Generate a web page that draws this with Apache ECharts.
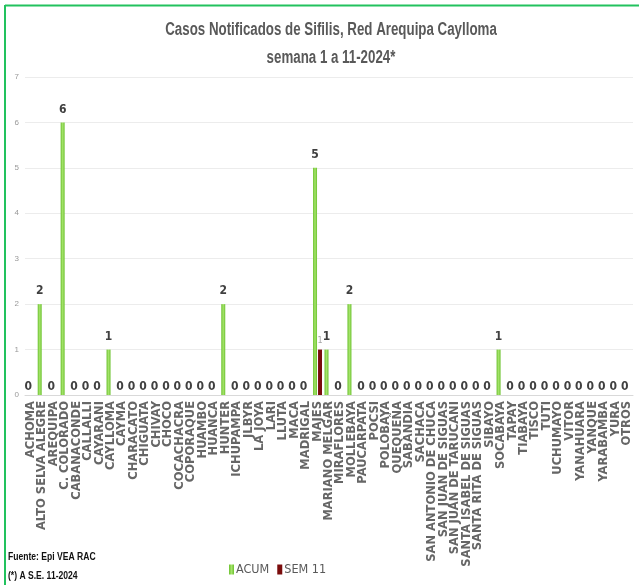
<!DOCTYPE html>
<html><head><meta charset="utf-8">
<script src="https://cdn.jsdelivr.net/npm/echarts@6/dist/echarts.min.js"></script>
<style>html,body{margin:0;padding:0;background:#fff}#c{width:639px;height:585px}</style>
</head><body><div id="c"></div>
<script>
const categories = ["ACHOMA","ALTO SELVA ALEGRE","AREQUIPA","C. COLORADO","CABANACONDE","CALLALLI","CAYARANI","CAYLLOMA","CAYMA","CHARACATO","CHIGUATA","CHIVAY","CHOCO","COCACHACRA","COPORAQUE","HUAMBO","HUANCA","HUNTER","ICHUPAMPA","JLBYR","LA JOYA","LARI","LLUTA","MACA","MADRIGAL","MAJES","MARIANO MELGAR","MIRAFLORES","MOLLEBAYA","PAUCARPATA","POCSI","POLOBAYA","QUEQUEÑA","SABANDIA","SACHACA","SAN ANTONIO DE CHUCA","SAN JUAN DE SIGUAS","SAN JUAN DE TARUCANI","SANTA ISABEL DE SIGUAS","SANTA RITA DE SIGUAS","SIBAYO","SOCABAYA","TAPAY","TIABAYA","TISCO","TUTI","UCHUMAYO","VITOR","YANAHUARA","YANQUE","YARABAMBA","YURA","OTROS"];
const acum = [0,2,0,6,0,0,0,1,0,0,0,0,0,0,0,0,0,2,0,0,0,0,0,0,0,5,1,0,2,0,0,0,0,0,0,0,0,0,0,0,0,1,0,0,0,0,0,0,0,0,0,0,0];
const sem11 = [0,0,0,0,0,0,0,0,0,0,0,0,0,0,0,0,0,0,0,0,0,0,0,0,0,1,0,0,0,0,0,0,0,0,0,0,0,0,0,0,0,0,0,0,0,0,0,0,0,0,0,0,0];
const yTicks = [0,1,2,3,4,5,6,7];
const titleLines = ['Casos Notificados de Sifilis, Red Arequipa Caylloma','semana 1 a 11-2024*'];
const notes = ['Fuente: Epi VEA RAC','(*) A S.E. 11-2024'];

const chart = echarts.init(document.getElementById('c'), null, {renderer:'canvas'});
const sans = "'Liberation Sans',Arial,sans-serif";
const cond = "'DejaVu Sans Condensed','DejaVu Sans',sans-serif";

chart.setOption({
  animation:false,
  backgroundColor:'#fff',
  graphic:[
    {type:'line', shape:{x1:5,y1:5.5,x2:639,y2:5.5}, style:{stroke:'#22c25e', lineWidth:2}},
    {type:'line', shape:{x1:5,y1:5,x2:5,y2:585}, style:{stroke:'#22c25e', lineWidth:2}},
    {type:'text', x:331, y:30, scaleX:0.74, style:{text:titleLines[0], font:"bold 18px "+sans, fill:'#595959', align:'center', verticalAlign:'middle'}},
    {type:'text', x:331, y:58, scaleX:0.74, style:{text:titleLines[1], font:"bold 18px "+sans, fill:'#595959', align:'center', verticalAlign:'middle'}},
    {type:'text', x:8, y:557, scaleX:0.78, style:{text:notes[0], font:"bold 11px "+sans, fill:'#111', verticalAlign:'middle'}},
    {type:'text', x:8, y:576, scaleX:0.78, style:{text:notes[1], font:"bold 11px "+sans, fill:'#111', verticalAlign:'middle'}}
  ],
  legend:{
    left:224, top:558, itemWidth:5, itemHeight:10, itemGap:8,
    icon:'rect',
    textStyle:{fontFamily:cond, fontSize:12.5, color:'#595959', padding:[0,0,0,-3]},
    data:['ACUM','SEM 11']
  },
  grid:{left:25, right:6, top:77, bottom:190, containLabel:false},
  xAxis:{
    type:'category', data:categories,
    axisLine:{show:true, lineStyle:{color:'#d9d9d9', width:1}},
    axisTick:{show:false},
    axisLabel:{interval:0, rotate:90, fontFamily:"'DejaVu Sans',Verdana,sans-serif", fontWeight:'bold', fontSize:11.5, color:'#666', margin:6}
  },
  yAxis:{
    type:'value', min:0, max:7, interval:1,
    axisLine:{show:false}, axisTick:{show:false},
    splitLine:{lineStyle:{color:'#ececec', width:1}},
    axisLabel:{fontSize:8, color:'#999', margin:6, fontFamily:sans,
      formatter:v=>yTicks.includes(v)?String(v):''}
  },
  series:[
    {name:'ACUM', type:'bar', barWidth:4, barGap:'25%',
      data:acum.map(v=>({value:v, label:{distance: v===0?2:7}})),
      itemStyle:{color:new echarts.graphic.LinearGradient(0,0,1,0,[{offset:0,color:'#6cc22f'},{offset:0.5,color:'#a4e36a'},{offset:1,color:'#6cc22f'}])},
      label:{show:true, position:'top', fontFamily:cond, fontWeight:'bold', fontSize:12, color:'#404040'}
    },
    {name:'SEM 11', type:'bar', data:sem11, barWidth:4,
      itemStyle:{color:'#7a0c0c'},
      label:{show:true, position:'top', distance:4, fontSize:9, color:'#a6a6a6', fontFamily:cond,
        formatter:p=>p.value===0?'':String(p.value)}
    }
  ]
});
</script></body></html>
